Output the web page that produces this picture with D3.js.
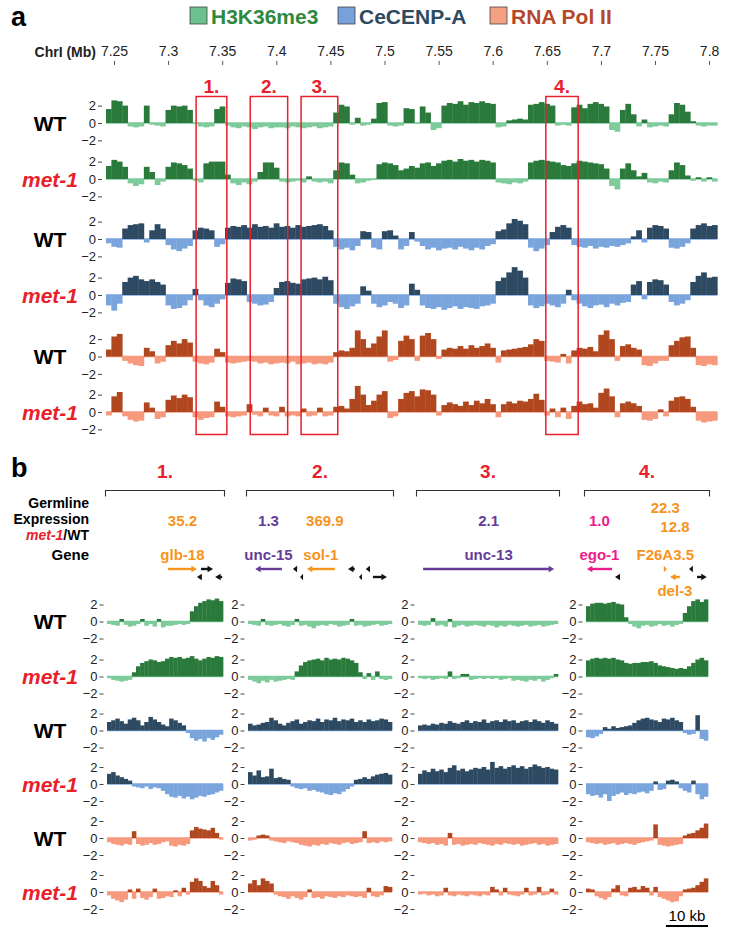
<!DOCTYPE html>
<html><head><meta charset="utf-8">
<script src="https://cdnjs.cloudflare.com/ajax/libs/d3/7.8.5/d3.min.js"></script>
<style>
body{margin:0;background:#fff}
svg{display:block}
text{font-family:"Liberation Sans",Arial,Helvetica,sans-serif}
</style>
</head><body>
<svg id="chart" width="729" height="936"></svg>
<script>
// ---------------- DATA ----------------
const marks = ["H3K36me3", "CeCENP-A", "RNA Pol II"];
const genotypes = ["WT", "met-1"];
const chrTicks = [7.25, 7.3, 7.35, 7.4, 7.45, 7.5, 7.55, 7.6, 7.65, 7.7, 7.75, 7.8];
const binStartMb = 7.2426;   // first 5 kb bin (panel a)
const binSizeMb = 0.005;

// panel a, log-ratio per 5 kb bin
const h3k36WT = [1.6,2.6,2.5,2.0,-0.4,-0.5,-0.4,2.0,-0.2,-0.3,-0.4,1.5,2.0,1.9,2.0,1.5,-0.1,-0.4,-0.5,-0.4,1.6,1.9,-0.3,
 -0.5,-0.6,-0.4,-0.5,-0.7,-0.5,-0.4,-0.6,-0.5,-0.5,-0.6,-0.4,-0.5,-0.6,-0.5,-0.4,-0.6,-0.5,-0.4,
 1.2,2.1,1.9,-0.2,0.6,-0.3,-0.2,0.5,2.3,2.4,-0.3,-0.4,-0.3,1.7,1.6,-0.1,1.9,1.2,-0.8,-0.6,
 2.0,2.3,2.2,2.5,2.1,2.4,2.3,2.5,2.3,2.2,-0.5,-0.4,0.3,0.4,0.5,0.4,2.1,2.2,2.4,2.2,2.0,-0.3,-0.2,-0.3,
 1.8,2.1,1.7,2.2,2.4,2.2,1.9,-0.8,-1.0,1.5,2.2,1.0,-0.4,0.4,-0.5,-0.4,-0.3,-0.4,1.0,2.3,2.1,1.3,0.2,-0.3,-0.4,-0.3,-0.3];
const h3k36Met1 = [1.5,2.2,2.0,1.4,-0.5,-0.8,-0.6,1.4,0.8,-0.7,-0.3,1.4,1.9,1.8,1.6,1.2,-0.2,-0.4,1.8,2.0,2.0,2.0,0.5,
 -0.5,-0.7,-0.4,-0.6,-0.3,0.8,1.9,1.9,1.3,-0.3,-0.4,-0.3,-0.2,-0.4,0.3,-0.3,-0.4,-0.3,-0.5,
 1.0,1.9,1.8,0.5,-0.5,-0.4,-0.2,-0.1,1.7,1.9,1.8,1.6,1.0,1.2,1.5,1.3,1.8,1.9,1.5,
 1.8,2.1,2.2,2.0,2.3,2.1,2.2,2.0,2.2,2.1,1.9,-0.4,-0.5,-0.6,-0.4,-0.5,-0.3,
 1.9,2.1,2.2,2.1,2.0,1.9,1.6,1.5,1.8,2.1,2.0,1.9,1.8,1.7,1.2,-0.8,-1.2,1.2,1.8,1.0,0.3,0.7,
 -0.4,-0.5,-0.3,-0.4,1.0,1.9,1.6,0.4,-0.2,0.2,-0.3,0.2,-0.3];
const cenpaWT = [-0.5,-0.9,-1.0,1.2,1.6,1.7,1.8,-0.4,1.0,1.7,1.2,-0.7,-1.2,-1.4,-1.1,-0.8,1.0,1.3,1.2,1.0,-0.9,-0.6,
 1.3,1.5,1.4,1.6,1.3,1.7,1.4,1.5,1.3,1.8,1.4,1.5,1.3,1.6,1.4,1.5,1.6,1.7,1.5,1.0,
 -0.9,-1.2,-1.0,-1.3,-0.8,0.9,0.8,-1.0,-1.2,0.9,1.0,0.4,-1.2,-0.8,0.8,-0.3,
 -0.8,-1.2,-1.0,-1.3,-1.1,-1.0,-1.2,-0.9,-1.1,-1.3,-1.0,-1.2,-0.8,-0.6,0.9,1.1,1.8,2.3,2.1,1.7,
 -1.0,-1.4,-1.1,-0.7,0.8,1.4,1.6,1.3,-0.7,-0.9,-1.0,-0.8,-1.1,-0.9,-1.0,-0.8,-0.9,-0.7,-0.5,
 0.3,1.0,-0.4,1.3,1.6,1.5,1.2,-1.0,-1.1,-0.9,-0.5,1.2,1.6,1.8,1.5,1.6];
const cenpaMet1 = [-1.2,-1.8,-1.0,1.5,2.0,2.2,1.8,1.6,1.8,1.5,1.2,-1.2,-1.6,-1.5,-1.2,-0.6,0.7,-0.6,-1.2,-1.4,-1.0,-0.5,
 1.4,1.9,1.8,1.6,-0.8,-1.0,-1.2,-1.1,-0.8,0.8,1.5,1.6,1.4,1.3,1.8,1.9,2.0,1.8,2.1,1.7,
 -1.0,-1.4,-1.6,-1.3,-1.0,1.0,0.5,-1.0,-1.4,-1.2,-0.8,-1.0,-1.5,-1.2,1.3,0.6,
 -1.2,-1.5,-1.6,-1.4,-1.7,-1.5,-1.3,-1.6,-1.4,-1.5,-1.6,-1.3,-1.2,-1.0,1.6,2.0,2.6,3.2,2.8,2.0,
 -1.2,-1.5,-1.3,-1.0,-1.2,-1.4,-1.0,0.6,-0.6,-1.0,-1.3,-1.5,-1.2,-1.1,-1.4,-1.0,-1.2,-0.9,-0.8,
 1.2,1.6,-0.5,1.5,1.8,1.7,1.2,-0.8,-1.2,-1.0,-0.6,1.5,2.2,2.6,2.0,2.1];
const polWT = [0.8,2.3,2.6,-0.5,-0.8,-1.0,-1.1,1.0,0.6,-0.8,-0.6,1.3,1.8,1.5,2.0,1.6,-0.6,-0.8,-0.9,-0.7,0.9,0.5,
 -0.7,-0.8,-0.7,-0.6,-0.5,-0.6,-0.8,-0.7,-0.9,-0.8,-0.7,-0.8,-0.6,-0.9,-0.8,-0.7,-0.9,-0.8,-0.9,-0.7,
 0.5,0.7,0.6,1.0,3.0,2.0,1.0,1.5,2.3,3.0,-0.6,-0.4,1.8,2.4,2.0,-0.5,2.4,2.7,2.0,-0.3,
 0.8,1.0,0.9,1.2,0.9,1.3,1.0,1.2,1.5,1.0,-0.7,0.7,0.8,0.9,1.0,1.1,1.4,2.0,1.8,
 -0.5,-0.6,-0.7,0.3,-0.8,0.7,1.0,0.9,1.1,0.6,2.5,3.0,2.0,-0.5,1.2,1.4,1.0,0.8,
 -1.0,-1.1,-0.8,-0.5,-0.5,1.3,1.8,2.2,2.3,1.0,-1.0,-1.1,-0.9,-1.0];
const polMet1 = [-0.4,1.8,2.3,-0.5,-0.9,-1.1,-1.0,1.1,0.5,-0.8,-0.6,1.4,1.9,1.6,2.0,1.7,-0.6,-0.9,-0.7,-0.6,1.2,0.6,
 -0.5,-0.6,-0.5,-0.4,0.9,-0.3,-0.5,0.5,-0.4,-0.5,0.6,-0.5,-0.4,-0.5,0.4,-0.5,-0.4,0.5,-0.5,-0.4,
 0.6,0.7,0.4,1.5,3.0,2.0,0.8,1.3,2.0,2.4,-0.7,-0.5,1.5,2.2,2.4,1.8,2.6,2.5,2.0,-0.4,
 0.8,1.1,0.9,0.7,1.2,0.8,1.3,1.0,1.5,0.9,-0.6,0.9,1.2,1.0,1.3,1.2,1.5,2.1,1.4,
 -0.4,0.4,-0.6,0.5,-0.8,0.7,1.2,0.9,1.0,0.5,2.2,2.7,1.8,-0.6,1.0,1.2,1.0,0.7,
 -0.9,-1.0,-0.8,0.3,-0.5,1.3,1.7,1.8,1.5,0.6,-1.0,-1.2,-1.1,-1.0];

// highlighted regions (Mb)
const regionLabels = ["1.", "2.", "3.", "4."];
const regionStartMb = [7.3259, 7.3759, 7.4229, 7.6491];
const regionEndMb = [7.3543, 7.4105, 7.4568, 7.6790];

// panel b, log-ratio per 1 kb bin, one array per region
const zoomH3WT = [
 [-0.3,-0.4,-0.5,0.3,-0.4,-0.6,-0.5,-0.3,0.3,-0.5,-0.3,-0.6,0.3,-0.7,-0.5,-0.5,-0.4,-0.3,-0.4,-0.3,1.2,1.8,2.2,2.4,2.6,2.5,2.7,2.4],
 [-0.3,-0.4,-0.5,0.3,-0.4,-0.5,-0.4,-0.3,-0.5,-0.6,-0.4,0.3,-0.5,-0.4,-0.6,-0.8,-0.5,-0.4,-0.5,-0.3,-0.4,-0.6,-0.5,-0.4,0.3,-0.5,-0.4,-0.6,-0.5,-0.4,-0.3,-0.5,-0.4,-0.3],
 [-0.4,-0.5,-0.4,0.4,-0.5,-0.4,-0.6,0.3,-0.7,-0.5,-0.4,-0.6,-0.5,-0.4,-0.5,-0.6,-0.4,-0.5,-0.7,-0.5,-0.6,-0.4,-0.5,-0.6,-0.5,-0.4,-0.6,-0.5,-0.4,-0.6,-0.5,-0.4,-0.3],
 [1.8,2.1,2.2,2.2,2.1,2.2,2.3,2.1,2.0,0.5,-0.3,-0.6,-0.8,-0.5,-0.4,-0.6,-0.5,-0.3,-0.5,-0.4,-0.6,-0.4,-0.3,1.0,1.8,2.4,2.6,2.3,2.6]];
const zoomH3Met1 = [
 [-0.2,-0.4,-0.5,-0.6,-0.5,-0.4,0.5,1.2,1.6,1.8,2.0,1.9,1.7,1.8,2.1,2.3,2.2,2.3,2.1,2.2,2.4,2.1,1.9,2.1,2.3,2.2,2.4,2.3],
 [-0.4,-0.6,-0.8,-0.5,-0.7,-0.4,-0.6,-0.5,-0.4,-0.3,-0.4,0.6,1.3,1.7,1.9,2.0,2.1,1.9,2.2,2.0,2.1,2.0,2.2,2.1,1.9,1.6,0.5,-0.3,0.4,-0.4,0.6,-0.3,-0.4,-0.3],
 [-0.2,-0.3,-0.2,-0.4,-0.3,-0.2,-0.3,0.6,-0.3,-0.2,0.3,0.3,-0.4,-0.3,-0.2,-0.3,-0.2,-0.3,-0.2,-0.4,-0.3,-0.2,-0.5,-0.4,-0.5,-0.6,-0.4,-0.5,-0.3,-0.6,-0.4,-0.2,0.3],
 [1.9,2.1,2.2,2.1,2.2,2.1,2.2,2.0,1.9,1.6,1.5,1.6,1.6,1.7,1.7,1.8,1.6,1.3,1.2,1.1,1.0,0.9,1.0,0.9,1.2,1.6,2.0,2.2,1.9]];
const zoomCenWT = [
 [1.0,1.2,1.4,1.1,0.8,1.3,1.5,1.2,0.6,1.0,1.6,1.3,1.0,0.7,0.5,1.4,1.2,0.9,0.6,-0.3,-0.9,-1.2,-1.0,-1.3,-0.9,-1.1,-0.8,-0.5],
 [0.8,0.6,0.7,0.9,1.0,1.5,1.2,0.8,0.6,0.9,1.1,1.3,0.8,1.0,1.2,1.1,1.4,1.0,1.3,1.2,1.5,1.1,1.3,1.2,1.4,1.0,1.2,1.0,1.3,1.1,1.2,1.4,1.3,1.0],
 [0.6,0.7,0.6,0.8,0.7,0.9,0.8,1.1,0.9,0.8,1.0,1.2,0.9,1.1,1.0,1.3,0.9,1.1,1.2,1.0,1.3,1.1,1.2,0.9,1.1,1.2,1.0,1.3,1.1,0.9,1.2,1.0,0.8],
 [-0.8,-0.9,-0.7,-0.4,0.4,0.2,0.5,0.3,0.4,0.5,0.6,0.9,1.2,1.4,1.5,1.3,1.2,1.0,1.4,1.3,1.5,1.2,1.0,-0.3,-0.5,-0.4,1.8,-1.0,-1.2]];
const zoomCenMet1 = [
 [1.2,1.4,1.0,0.8,0.6,0.4,-0.3,-0.4,-0.5,-0.3,-0.6,-0.4,-0.5,-0.8,-1.2,-1.5,-1.6,-1.4,-1.7,-1.5,-1.8,-1.6,-1.4,-1.5,-1.3,-1.2,-1.0,-0.8],
 [1.4,1.0,1.6,0.8,0.9,1.8,0.7,0.8,0.6,0.5,-0.3,-0.5,-0.6,-0.5,-0.8,-0.7,-0.9,-1.0,-1.2,-1.3,-1.1,-1.2,-0.9,-0.6,-0.3,0.5,0.6,0.8,0.6,0.9,1.1,1.2,1.3,1.1],
 [1.2,1.6,1.4,1.8,1.5,1.7,1.4,1.9,2.2,1.6,1.8,1.5,1.7,1.9,1.8,2.0,1.7,2.6,1.9,2.1,1.8,2.0,2.2,1.9,2.1,1.8,2.0,2.3,2.1,1.9,2.0,1.8,1.7],
 [-1.2,-1.4,-1.3,-1.6,-1.2,-2.0,-1.4,-1.2,-1.0,-1.3,-1.1,-1.2,-1.0,-0.9,-1.1,-0.8,0.3,-0.7,-0.6,0.4,0.5,0.3,-0.5,-0.8,-1.0,0.4,-1.2,-1.8,-1.5]];
const zoomPolWT = [
 [-0.5,-0.7,-0.8,-0.9,-0.7,-0.8,0.8,-0.7,-0.9,-0.8,-0.6,-0.8,-0.7,-0.5,-0.4,-0.9,-1.0,-0.8,-0.9,-0.7,0.9,1.3,1.1,1.0,0.9,1.2,0.6,-0.2],
 [-0.3,-0.2,0.3,0.4,0.3,-0.3,-0.4,-0.5,-0.6,-0.4,-0.5,-0.6,-0.8,-0.9,-1.0,-0.8,-0.9,-0.7,-0.8,-0.6,-0.7,-0.8,-0.6,-0.5,-0.7,-0.6,-0.5,0.8,-0.6,-0.5,-0.6,-0.4,-0.5,-0.4],
 [-0.5,-0.6,-0.7,-0.6,-0.8,-0.7,-0.9,0.6,-0.8,-0.7,-0.9,-0.8,-0.7,-0.8,-0.6,-0.7,-0.8,-0.9,-0.7,-0.8,-0.6,-0.7,-0.8,-0.7,-0.9,-0.8,-0.7,-0.6,-0.8,-0.7,-0.9,-0.8,-0.7],
 [-0.5,-0.6,-0.7,-0.6,-0.8,-0.7,-0.6,-0.8,-0.7,-0.6,-0.7,-0.8,-0.6,-0.5,-0.4,-0.3,1.6,-0.8,-0.9,-1.0,-0.9,-0.8,-0.7,0.3,0.5,0.6,0.9,1.2,1.7]];
const zoomPolMet1 = [
 [-0.4,-0.8,-1.0,-1.2,-0.9,0.3,-0.8,0.4,-0.7,-0.9,-0.6,0.4,-0.8,-0.7,-0.5,-0.6,0.2,-0.5,0.5,-0.3,1.2,1.6,1.3,0.7,0.5,1.3,0.8,-0.3],
 [1.0,1.4,0.8,1.6,1.3,1.0,-0.3,-0.5,-0.6,-0.8,-0.5,-0.7,-0.9,-0.6,0.3,-0.7,-0.6,-0.8,-0.5,-0.6,-0.7,-0.5,-0.6,-0.4,-0.5,-0.6,-0.5,-0.7,0.5,-0.5,-0.6,-0.4,0.7,0.6],
 [-0.3,-0.2,-0.4,-0.3,-0.5,-0.4,0.5,-0.4,-0.5,-0.3,-0.4,-0.5,-0.3,-0.4,-0.5,-0.3,-0.4,0.6,0.3,-0.4,0.5,-0.3,-0.4,-0.5,-0.3,0.5,-0.4,-0.3,0.6,-0.4,-0.3,0.4,-0.3],
 [0.4,0.3,-0.5,-0.7,-0.9,-0.6,0.4,0.8,-0.4,-0.5,0.5,0.6,0.3,0.7,0.5,-0.4,0.6,-0.6,-0.8,-1.0,-1.2,-1.1,-0.5,0.3,0.4,0.5,0.8,1.2,1.6]];

// genes: region index, start/end kb within region, strand, class, expression ratio
const geneNames   = ["glb-18","","","", "unc-15","","","sol-1","","","","", "unc-13", "ego-1","","F26A3.5","del-3","",""];
const geneRegion  = [0,0,0,0, 1,1,1,1,1,1,1,1, 2, 3,3,3,3,3,3];
const geneStartKb = [14.7,22.7,21.7,26.1, 1.7,10.6,12.3,13.9,23.6,26.2,27.8,29.5, 1.2, 0.2,6.9,18.5,20.0,24.5,26.4];
const geneEndKb   = [21.7,25.6,22.9,27.8, 8.0,11.6,13.0,20.5,25.2,26.9,28.8,32.8, 32.1, 6.2,8.1,19.2,22.3,25.4,28.7];
const geneStrand  = [1,1,-1,-1, -1,-1,-1,-1,-1,-1,-1,1, 1, -1,-1,1,-1,-1,1];
const geneLane    = [0,0,1,1, 0,0,1,0,0,1,0,1, 0, 0,1,0,1,0,1];
const geneClass   = ["up","other","other","other", "mid","other","other","up","other","other","other","other", "mid", "flat","other","up","up","other","other"];
const geneExpr    = ["35.2","","","", "1.3","","","369.9","","","","", "2.1", "1.0","","22.3","12.8","",""];
const scaleBarKb = 10;

// ---------------- STYLE / LAYOUT ----------------
const col = {
  "H3K36me3":  {pos:"#2a7a3b", neg:"#7dcb9b", text:"#2f8a3f", key:"#6cc28f"},
  "CeCENP-A":  {pos:"#2d4a62", neg:"#79a4dc", text:"#2e4a5f", key:"#77a1d8"},
  "RNA Pol II":{pos:"#b0471f", neg:"#f6997d", text:"#b6472a", key:"#f4a083"}
};
const red = "#e8202a";
const geneCol = {up:"#f7941d", mid:"#663c98", flat:"#ec1c8c", other:"#111"};
const svg = d3.select("#chart");

const xA = d3.scaleLinear().domain([7.25, 7.8]).range([114, 114 + 0.55 * 1082]);
const zeroA = [123, 179, 239, 295, 356.5, 412];
const halfA = 17.4;
const zeroB = [621.5, 676.5, 730.5, 784, 838, 892];
const halfB = 17;
const panelBRange = [[107, 223], [248, 392], [418, 558], [586, 708]];

const tracksA = [
  {mark:"H3K36me3", geno:"WT", values:h3k36WT},
  {mark:"H3K36me3", geno:"met-1", values:h3k36Met1},
  {mark:"CeCENP-A", geno:"WT", values:cenpaWT},
  {mark:"CeCENP-A", geno:"met-1", values:cenpaMet1},
  {mark:"RNA Pol II", geno:"WT", values:polWT},
  {mark:"RNA Pol II", geno:"met-1", values:polMet1}
];
const tracksB = [
  {mark:"H3K36me3", geno:"WT", values:zoomH3WT},
  {mark:"H3K36me3", geno:"met-1", values:zoomH3Met1},
  {mark:"CeCENP-A", geno:"WT", values:zoomCenWT},
  {mark:"CeCENP-A", geno:"met-1", values:zoomCenMet1},
  {mark:"RNA Pol II", geno:"WT", values:zoomPolWT},
  {mark:"RNA Pol II", geno:"met-1", values:zoomPolMet1}
];

// ---------------- PANEL LABELS & LEGEND ----------------
svg.append("text").attr("x", 11).attr("y", 26).attr("font-size", 27).attr("font-weight", "bold").text("a");
svg.append("text").attr("x", 11).attr("y", 477).attr("font-size", 27).attr("font-weight", "bold").text("b");

const legendX = [190, 338, 490];
marks.forEach((m, i) => {
  svg.append("rect").attr("x", legendX[i]).attr("y", 7).attr("width", 17).attr("height", 17)
    .attr("fill", col[m].key).attr("stroke", "#444").attr("stroke-width", 0.8);
  svg.append("text").attr("x", legendX[i] + 21).attr("y", 23.5).attr("font-size", 21)
    .attr("font-weight", "bold").attr("fill", col[m].text).text(m);
});

// ---------------- CHROMOSOME AXIS ----------------
svg.append("text").attr("x", 96).attr("y", 56.5).attr("text-anchor", "end")
  .attr("font-size", 14).attr("font-weight", "bold").attr("fill", "#222").text("ChrI (Mb)");
const axTop = svg.append("g").attr("transform", "translate(0,65)")
  .call(d3.axisTop(xA).tickValues(chrTicks).tickSize(4).tickPadding(5).tickFormat(d3.format("")));
axTop.select(".domain").remove();
axTop.selectAll("line").attr("stroke", "#555");
axTop.selectAll("text").attr("font-size", 14).attr("fill", "#222")
  .style("font-family", '"Liberation Sans",Arial,sans-serif');

// ---------------- TRACK DRAWING ----------------
function drawTrack(values, x0Val, step, xs, zero, half, c) {
  const y = d3.scaleLinear().domain([-2, 2]).range([zero + half, zero - half]);
  const g = svg.append("g");
  g.append("line").attr("x1", xs(x0Val)).attr("x2", xs(x0Val + values.length * step))
    .attr("y1", y(0)).attr("y2", y(0)).attr("stroke", c.neg).attr("stroke-width", 1.4);
  const bw = Math.abs(xs(x0Val + step) - xs(x0Val));
  g.selectAll("rect").data(values).join("rect")
    .attr("x", (d, i) => xs(x0Val + i * step))
    .attr("width", bw + 0.35)
    .attr("y", d => d >= 0 ? y(d) : y(0))
    .attr("height", d => Math.abs(y(d) - y(0)))
    .attr("fill", d => d >= 0 ? c.pos : c.neg);
  return y;
}
function drawYAxis(y, xPos) {
  const ax = svg.append("g").attr("transform", `translate(${xPos},0)`)
    .call(d3.axisLeft(y).tickValues([-2, 0, 2]).tickSize(4).tickPadding(2).tickFormat(d3.format("d")));
  ax.select(".domain").remove();
  ax.selectAll("line").attr("stroke", "#444");
  ax.selectAll("text").attr("font-size", 13).attr("fill", "#222")
    .style("font-family", '"Liberation Sans",Arial,sans-serif');
}
function rowLabel(geno, zero) {
  const isMut = geno !== "WT";
  svg.append("text").attr("x", 50).attr("y", zero + 7.5).attr("text-anchor", "middle")
    .attr("font-size", 21).attr("font-weight", "bold")
    .attr("font-style", isMut ? "italic" : "normal")
    .attr("fill", isMut ? red : "#000").text(geno);
}

// panel a
tracksA.forEach((t, r) => {
  const y = drawTrack(t.values, binStartMb, binSizeMb, xA, zeroA[r], halfA, col[t.mark]);
  drawYAxis(y, 102);
  rowLabel(t.geno, zeroA[r]);
});

// red boxes
regionLabels.forEach((lab, i) => {
  const x0 = xA(regionStartMb[i]), x1 = xA(regionEndMb[i]);
  svg.append("rect").attr("x", x0).attr("y", 96.5).attr("width", x1 - x0).attr("height", 338)
    .attr("fill", "none").attr("stroke", red).attr("stroke-width", 1.5);
  svg.append("text").attr("x", (x0 + x1) / 2).attr("y", 93).attr("text-anchor", "middle")
    .attr("font-size", 19).attr("font-weight", "bold").attr("fill", red).text(lab);
});

// ---------------- PANEL B ----------------
const xB = panelBRange.map((rg, i) => d3.scaleLinear().domain([0, zoomH3WT[i].length]).range(rg));

// brackets and region numbers
regionLabels.forEach((lab, i) => {
  const [a, b] = panelBRange[i];
  svg.append("path").attr("d", `M${a - 1.5},496.5V490.5H${b + 1.5}V496.5`)
    .attr("fill", "none").attr("stroke", "#333").attr("stroke-width", 1.1);
  svg.append("text").attr("x", (a + b) / 2).attr("y", 478).attr("text-anchor", "middle")
    .attr("font-size", 19).attr("font-weight", "bold").attr("fill", red).text(lab);
});

// left header text
const hdrLines = [["Germline", 508], ["Expression", 524]];
hdrLines.forEach(([t, yy]) => svg.append("text").attr("x", 89).attr("y", yy).attr("text-anchor", "end")
  .attr("font-size", 14).attr("font-weight", "bold").text(t));
const mt = svg.append("text").attr("x", 89).attr("y", 540).attr("text-anchor", "end")
  .attr("font-size", 14).attr("font-weight", "bold");
mt.append("tspan").attr("fill", red).attr("font-style", "italic").text("met-1");
mt.append("tspan").text("/WT");
svg.append("text").attr("x", 89).attr("y", 560).attr("text-anchor", "end")
  .attr("font-size", 15).attr("font-weight", "bold").text("Gene");

// genes
const laneY = [569, 577];
const exprY = {"F26A3.5": 513, "del-3": 532};
const nameY = {"del-3": 596};
geneNames.forEach((nm, i) => {
  const xs = xB[geneRegion[i]];
  const a = xs(geneStartKb[i]), b = xs(geneEndKb[i]);
  const y = laneY[geneLane[i]];
  const c = geneCol[geneClass[i]];
  const len = b - a;
  const head = Math.min(5.5, len);
  const hw = 3.2;
  const g = svg.append("g");
  if (geneStrand[i] > 0) {
    if (len - head > 0.5) g.append("line").attr("x1", a).attr("x2", b - head + 0.5).attr("y1", y).attr("y2", y)
      .attr("stroke", c).attr("stroke-width", 2.4);
    g.append("path").attr("d", `M${b},${y}L${b - head},${y - hw}L${b - head},${y + hw}Z`).attr("fill", c);
  } else {
    if (len - head > 0.5) g.append("line").attr("x1", a + head - 0.5).attr("x2", b).attr("y1", y).attr("y2", y)
      .attr("stroke", c).attr("stroke-width", 2.4);
    g.append("path").attr("d", `M${a},${y}L${a + head},${y - hw}L${a + head},${y + hw}Z`).attr("fill", c);
  }
  const cx = (a + b) / 2;
  if (nm) {
    svg.append("text").attr("x", cx).attr("y", nameY[nm] || 560).attr("text-anchor", "middle")
      .attr("font-size", 15).attr("font-weight", "bold").attr("fill", c).text(nm);
  }
  if (geneExpr[i]) {
    const ex = nm === "sol-1" ? cx + 4 : cx;
    svg.append("text").attr("x", ex).attr("y", exprY[nm] || 526).attr("text-anchor", "middle")
      .attr("font-size", 15).attr("font-weight", "bold").attr("fill", c).text(geneExpr[i]);
  }
});

// zoomed tracks
tracksB.forEach((t, r) => {
  t.values.forEach((vals, p) => {
    const y = drawTrack(vals, 0, 1, xB[p], zeroB[r], halfB, col[t.mark]);
    drawYAxis(y, panelBRange[p][0] - 3.5);
  });
  rowLabel(t.geno, zeroB[r]);
});

// scale bar
const x4 = xB[3];
const nb = zoomH3WT[3].length;
svg.append("line").attr("x1", x4(nb - scaleBarKb)).attr("x2", x4(nb)).attr("y1", 926).attr("y2", 926)
  .attr("stroke", "#000").attr("stroke-width", 2);
svg.append("text").attr("x", (x4(nb - scaleBarKb) + x4(nb)) / 2).attr("y", 921).attr("text-anchor", "middle")
  .attr("font-size", 15).text("10 kb");
</script>
</body></html>
